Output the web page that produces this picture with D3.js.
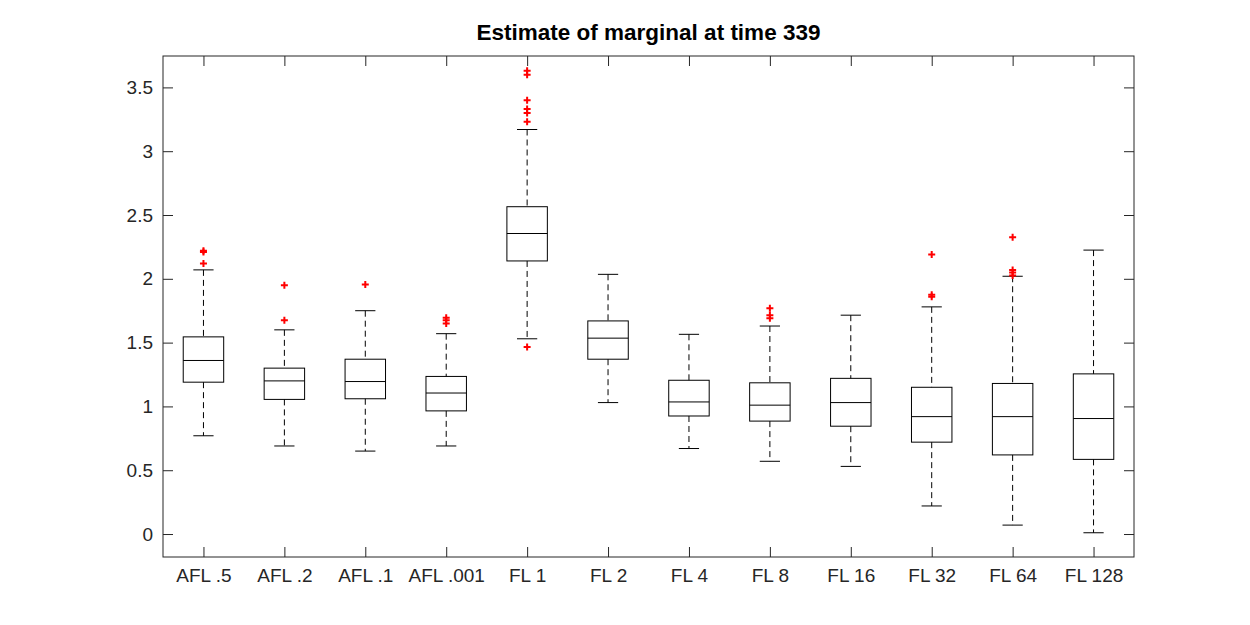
<!DOCTYPE html>
<html>
<head>
<meta charset="utf-8">
<script src="https://cdn.jsdelivr.net/npm/d3@7"></script>
<style>
  body { margin: 0; background: #fff; }
  svg { font-family: "Liberation Sans", Arial, Helvetica, sans-serif; }
</style>
</head>
<body>
<svg id="chart" width="1250" height="625"></svg>
<script>
// categories and box statistics
const categories = ["AFL .5", "AFL .2", "AFL .1", "AFL .001", "FL 1", "FL 2", "FL 4", "FL 8", "FL 16", "FL 32", "FL 64", "FL 128"]
const lowerWhisker = [0.77, 0.69, 0.65, 0.69, 1.53, 1.03, 0.67, 0.57, 0.53, 0.22, 0.07, 0.01]
const q1 = [1.19, 1.055, 1.06, 0.965, 2.14, 1.37, 0.925, 0.885, 0.845, 0.72, 0.62, 0.585]
const medians = [1.36, 1.20, 1.195, 1.105, 2.355, 1.535, 1.035, 1.01, 1.03, 0.92, 0.92, 0.905]
const q3 = [1.545, 1.30, 1.37, 1.235, 2.565, 1.67, 1.205, 1.185, 1.22, 1.15, 1.18, 1.255]
const upperWhisker = [2.07, 1.60, 1.75, 1.57, 3.17, 2.035, 1.565, 1.63, 1.715, 1.78, 2.02, 2.225]
const outliers = [
    [2.21, 2.22, 2.12],
    [1.95, 1.675],
    [1.955],
    [1.695, 1.675, 1.65],
    [3.63, 3.60, 3.40, 3.33, 3.30, 3.23, 1.465],
    [],
    [],
    [1.77, 1.715, 1.69],
    [],
    [2.19, 1.875, 1.86],
    [2.325, 2.07, 2.05, 2.025],
    []
]
const yTicks = [0, 0.5, 1, 1.5, 2, 2.5, 3, 3.5]
const titleText = "Estimate of marginal at time 339"

const svg = d3.select("#chart")
const plotLeft = 163, plotRight = 1134, plotTop = 56, plotBottom = 557

const x = d3.scaleLinear().domain([0.5, categories.length + 0.5]).range([plotLeft, plotRight])
const y = d3.scaleLinear().domain([-0.18, 3.746]).range([plotBottom, plotTop])

const boxW = x(1.25) - x(1)
const capW = x(1.125) - x(1)

//axes - box on with ticks inside on every side
const axisLeft = d3.axisLeft(y).tickValues(yTicks).tickSizeInner(-10).tickSizeOuter(0).tickPadding(10).tickFormat(d3.format(""))
const axisRight = d3.axisRight(y).tickValues(yTicks).tickSizeInner(-10).tickSizeOuter(0).tickFormat("")
const axisBottom = d3.axisBottom(x).tickValues(d3.range(1, categories.length + 1)).tickSizeInner(-10).tickSizeOuter(0).tickPadding(12).tickFormat(i => categories[i - 1])
const axisTop = d3.axisTop(x).tickValues(d3.range(1, categories.length + 1)).tickSizeInner(-10).tickSizeOuter(0).tickFormat("")

svg.append("g").attr("transform", `translate(${plotLeft},0)`).call(axisLeft)
svg.append("g").attr("transform", `translate(${plotRight},0)`).call(axisRight)
svg.append("g").attr("transform", `translate(0,${plotBottom})`).call(axisBottom)
svg.append("g").attr("transform", `translate(0,${plotTop})`).call(axisTop)

svg.selectAll(".domain").remove()
svg.selectAll(".tick line").attr("stroke", "#262626")
svg.selectAll(".tick text").attr("fill", "#262626").style("font-size", "19px").style("font-family", "'Liberation Sans', Arial, sans-serif")

svg.append("rect")
    .attr("x", plotLeft).attr("y", plotTop)
    .attr("width", plotRight - plotLeft).attr("height", plotBottom - plotTop)
    .attr("fill", "none").attr("stroke", "#262626").attr("stroke-width", 1)

//boxes
const g = svg.append("g")
categories.forEach((c, i) => {
    const cx = x(i + 1)
    const box = g.append("g")
    //whiskers
    box.append("line")
        .attr("x1", cx).attr("x2", cx)
        .attr("y1", y(upperWhisker[i])).attr("y2", y(q3[i]))
        .attr("stroke", "#000").attr("stroke-dasharray", "6,4")
    box.append("line")
        .attr("x1", cx).attr("x2", cx)
        .attr("y1", y(q1[i])).attr("y2", y(lowerWhisker[i]))
        .attr("stroke", "#000").attr("stroke-dasharray", "6,4")
    //caps
    ;[upperWhisker[i], lowerWhisker[i]].forEach(v => {
        box.append("line")
            .attr("x1", cx - capW).attr("x2", cx + capW)
            .attr("y1", y(v)).attr("y2", y(v))
            .attr("stroke", "#000")
    })
    box.append("rect")
        .attr("x", cx - boxW).attr("y", y(q3[i]))
        .attr("width", 2 * boxW).attr("height", y(q1[i]) - y(q3[i]))
        .attr("fill", "none").attr("stroke", "#000")
    box.append("line")
        .attr("x1", cx - boxW).attr("x2", cx + boxW)
        .attr("y1", y(medians[i])).attr("y2", y(medians[i]))
        .attr("stroke", "#000")
    //outliers as red plus signs
    outliers[i].forEach(v => {
        box.append("path")
            .attr("d", `M${cx - 3.5},${y(v)}h7M${cx},${y(v) - 3.5}v7`)
            .attr("stroke", "#ff0000").attr("stroke-width", 2)
    })
})

svg.append("text")
    .attr("x", (plotLeft + plotRight) / 2).attr("y", 39.5)
    .attr("text-anchor", "middle")
    .style("font-size", "22.5px").style("font-weight", "bold")
    .text(titleText)
</script>
</body>
</html>
